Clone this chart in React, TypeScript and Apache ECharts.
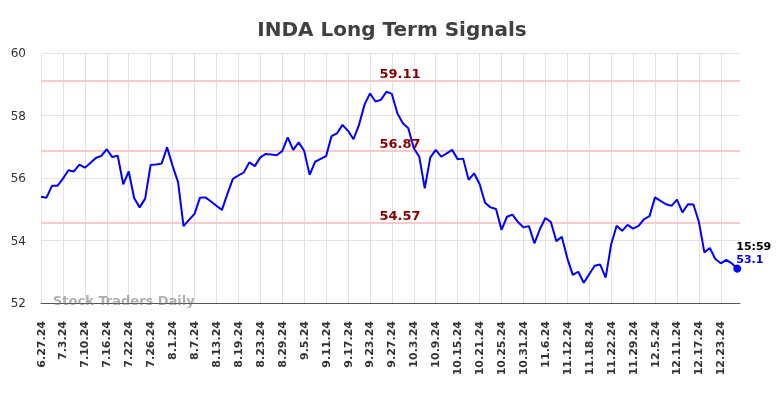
import React, { useEffect, useRef } from "react";
import * as echarts from "echarts";

const dates: string[] = [
  "6.27.24", "6.28.24", "7.1.24", "7.2.24", "7.3.24", "7.5.24", "7.8.24", "7.9.24",
  "7.10.24", "7.11.24", "7.12.24", "7.15.24", "7.16.24", "7.17.24", "7.18.24", "7.19.24",
  "7.22.24", "7.23.24", "7.24.24", "7.25.24", "7.26.24", "7.29.24", "7.30.24", "7.31.24",
  "8.1.24", "8.2.24", "8.5.24", "8.6.24", "8.7.24", "8.8.24", "8.9.24", "8.12.24",
  "8.13.24", "8.14.24", "8.15.24", "8.16.24", "8.19.24", "8.20.24", "8.21.24", "8.22.24",
  "8.23.24", "8.26.24", "8.27.24", "8.28.24", "8.29.24", "8.30.24", "9.3.24", "9.4.24",
  "9.5.24", "9.6.24", "9.9.24", "9.10.24", "9.11.24", "9.12.24", "9.13.24", "9.16.24",
  "9.17.24", "9.18.24", "9.19.24", "9.20.24", "9.23.24", "9.24.24", "9.25.24", "9.26.24",
  "9.27.24", "9.30.24", "10.1.24", "10.2.24", "10.3.24", "10.4.24", "10.7.24", "10.8.24",
  "10.9.24", "10.10.24", "10.11.24", "10.14.24", "10.15.24", "10.16.24", "10.17.24", "10.18.24",
  "10.21.24", "10.22.24", "10.23.24", "10.24.24", "10.25.24", "10.28.24", "10.29.24", "10.30.24",
  "10.31.24", "11.1.24", "11.4.24", "11.5.24", "11.6.24", "11.7.24", "11.8.24", "11.11.24",
  "11.12.24", "11.13.24", "11.14.24", "11.15.24", "11.18.24", "11.19.24", "11.20.24", "11.21.24",
  "11.22.24", "11.25.24", "11.26.24", "11.27.24", "11.29.24", "12.2.24", "12.3.24", "12.4.24",
  "12.5.24", "12.6.24", "12.9.24", "12.10.24", "12.11.24", "12.12.24", "12.13.24", "12.16.24",
  "12.17.24", "12.18.24", "12.19.24", "12.20.24", "12.23.24", "12.24.24", "12.26.24", "12.27.24",
];

const prices: number[] = [
  55.40, 55.37, 55.75, 55.75, 55.98, 56.25, 56.21, 56.43,
  56.33, 56.48, 56.64, 56.71, 56.92, 56.67, 56.71, 55.80,
  56.21, 55.35, 55.06, 55.34, 56.42, 56.43, 56.46, 56.98,
  56.39, 55.87, 54.46, 54.66, 54.85, 55.37, 55.38, 55.25,
  55.11, 54.98, 55.49, 55.97, 56.08, 56.18, 56.50, 56.38,
  56.66, 56.77, 56.75, 56.73, 56.86, 57.30, 56.90, 57.14,
  56.87, 56.10, 56.52, 56.61, 56.70, 57.34, 57.43, 57.70,
  57.51, 57.24, 57.70, 58.34, 58.71, 58.45, 58.50, 58.76,
  58.69, 58.07, 57.75, 57.59, 56.95, 56.68, 55.67, 56.65,
  56.90, 56.68, 56.79, 56.90, 56.60, 56.62, 55.94, 56.15,
  55.81, 55.21, 55.06, 55.01, 54.34, 54.76, 54.83, 54.59,
  54.42, 54.46, 53.91, 54.36, 54.72, 54.59, 53.98, 54.12,
  53.43, 52.90, 53.00, 52.65, 52.92, 53.19, 53.23, 52.81,
  53.88, 54.47, 54.31, 54.50, 54.38, 54.47, 54.68, 54.78,
  55.38, 55.27, 55.16, 55.11, 55.31, 54.90, 55.16, 55.15,
  54.60, 53.62, 53.76, 53.41, 53.27, 53.38, 53.27, 53.10,
];

const signalLevels: number[] = [59.11, 56.87, 54.57];
const lastTimeLabel = "15:59";
const yTicks = { min: 52, max: 60, step: 2 };
const labelEvery = 4;

export default function App() {
  const ref = useRef<HTMLDivElement>(null);

  useEffect(() => {
    if (!ref.current) return;
    const chart = echarts.init(ref.current, null, { renderer: "svg" });
    const lastIdx = prices.length - 1;
    const lineData = prices.map((v, i) => [i, v]);
    const levelLabelX = lastIdx / 2 + 2;

    chart.setOption({
      animation: false,
      textStyle: { fontFamily: "DejaVu Sans" },
      title: {
        text: "INDA Long Term Signals",
        left: "center",
        top: 14,
        textStyle: { fontSize: 20, fontWeight: "bold", color: "#404040", fontFamily: "DejaVu Sans" },
      },
      grid: { left: 41, right: 44, top: 53, bottom: 95 },
      xAxis: {
        type: "value",
        min: 0,
        max: lastIdx + 0.5,
        interval: labelEvery,
        axisLine: { show: true, onZero: false, lineStyle: { color: "#555", width: 1 } },
        axisTick: { show: false },
        splitLine: { show: true, showMaxLine: false, lineStyle: { color: "#e3e3e3", width: 1 } },
        axisLabel: {
          rotate: 90,
          margin: 18,
          fontSize: 11,
          fontWeight: "bold",
          color: "#333",
          showMaxLabel: false,
          formatter: (v: number) =>
            Number.isInteger(v) && v % labelEvery === 0 && dates[v] ? dates[v] : "",
        },
      },
      yAxis: {
        type: "value",
        min: yTicks.min,
        max: yTicks.max,
        interval: yTicks.step,
        axisLine: { show: false },
        axisTick: { show: false },
        splitLine: { show: true, lineStyle: { color: "#e3e3e3", width: 1 } },
        axisLabel: { fontSize: 12, color: "#333", margin: 15 },
      },
      graphic: [
        {
          type: "text",
          left: 53,
          top: 294,
          z: 10,
          style: {
            text: "Stock Traders Daily",
            fontSize: 13,
            fontWeight: "bold",
            fontFamily: "DejaVu Sans",
            fill: "rgba(110,110,110,0.55)",
          },
        },
      ],
      series: [
        {
          type: "line",
          data: lineData,
          showSymbol: false,
          lineStyle: { color: "#0000ff", width: 2 },
          itemStyle: { color: "#0000ff" },
          z: 3,
          markLine: {
            silent: true,
            symbol: "none",
            label: { show: false },
            lineStyle: { color: "#ffcaca", width: 2, type: "solid" },
            data: signalLevels.map((v) => ({ yAxis: v })),
            z: 1,
          },
        },
        {
          type: "scatter",
          data: signalLevels.map((v) => [levelLabelX, v]),
          symbolSize: 0,
          silent: true,
          z: 4,
          itemStyle: { opacity: 1 },
          label: {
            show: true,
            position: "top",
            distance: 1,
            fontSize: 13,
            fontWeight: "bold",
            color: "#8b0000",
            opacity: 1,
            formatter: (p: any) => p.value[1].toFixed(2),
          },
        },
        {
          type: "scatter",
          data: [[lastIdx, prices[lastIdx]]],
          symbol: "circle",
          symbolSize: 8,
          itemStyle: { color: "#0000ff", opacity: 1 },
          z: 5,
          label: {
            show: true,
            position: [3, -25],
            align: "left",
            verticalAlign: "top",
            opacity: 1,
            formatter: () => `{t|${lastTimeLabel}}\n{v|${prices[lastIdx]}}`,
            rich: {
              t: { fontSize: 11, fontWeight: "bold", color: "#000", lineHeight: 13 },
              v: { fontSize: 11, fontWeight: "bold", color: "#0000ff", lineHeight: 13 },
            },
          },
        },
      ],
    });

    return () => chart.dispose();
  }, []);

  return (
    <div
      ref={ref}
      style={{ position: "fixed", left: 0, top: 0, width: 784, height: 398 }}
    />
  );
}
